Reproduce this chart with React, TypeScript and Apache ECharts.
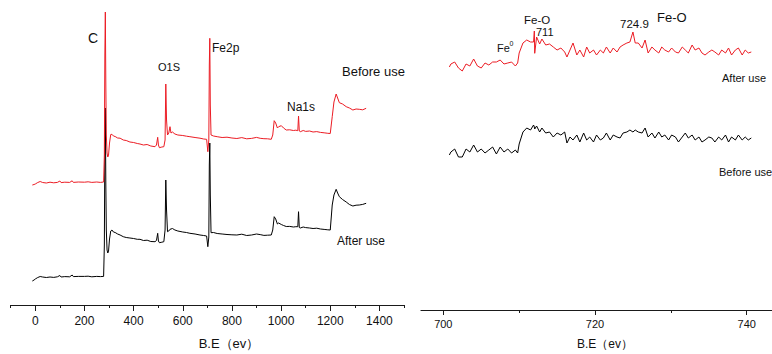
import React, { useEffect, useRef } from "react";
import * as echarts from "echarts";

// Survey spectrum (left panel): binding energy (eV) and intensity (a.u.)
const surveyBE = [
  -12, -5, 0, 10, 20, 30, 45, 60, 75, 90, 100, 105, 120, 140, 150, 155, 175, 200, 215, 230, 250, 265, 278,
  281, 283, 285, 287, 289, 292, 295, 298, 302, 307, 312, 318, 325, 335, 345, 358, 370, 385, 400, 415, 426,
  440, 455, 470, 487, 493, 498, 501, 505, 515, 523, 528, 531, 534, 538, 543, 548, 552, 558, 568, 580, 600,
  615, 629, 650, 670, 685, 697, 702, 706, 708, 710, 712, 715, 725, 740, 760, 780, 800, 820, 840, 860, 880,
  900, 915, 930, 945, 960, 966, 972, 978, 985, 990, 1001, 1010, 1021, 1035, 1050, 1060, 1068, 1071, 1074,
  1078, 1090, 1100, 1116, 1130, 1145, 1160, 1175, 1190, 1200, 1208, 1215, 1224, 1230, 1237, 1250, 1265,
  1278, 1292, 1305, 1318, 1332, 1346,
];
const surveyBefore = [
  120, 120.5, 121, 122.5, 123.5, 122.5, 122, 122.8, 122.2, 122.6, 124, 122.4, 122.8, 122.6, 124.2, 122.6, 123, 122.8, 123.2, 122.6, 123, 122.6, 123,
  150, 250, 293, 220, 170, 152, 148, 150, 162, 170.5, 170.7, 169, 168.5, 167, 166.8, 165, 164.5, 163, 162.5, 161.5, 161,
  160, 160.5, 159, 158.3, 160, 167.7, 160, 157.3, 158, 158.3, 165, 221, 185, 170, 172, 178.3, 172, 173, 171, 170, 169.5,
  168.8, 168.3, 167.5, 166.8, 166, 165.7, 153.3, 165, 240, 266.7, 200, 170, 169, 168.3, 167.5, 167.8, 167, 166.5, 167.4, 166.2, 166.6,
  167.6, 166.7, 166.3, 166.2, 165.7, 170, 184.3, 182, 177, 178.3, 179.3, 177, 175, 175.2, 174.5, 174.8, 174.3, 189, 174,
  173.3, 174.5, 173.6, 174, 173, 173.4, 172.6, 172.2, 171.7, 171.5, 188.3, 203, 211, 207, 202.3, 201, 198.3,
  197, 195, 196, 195.7, 195.2, 196.7,
];
const surveyAfter = [
  24, 25, 26, 27.5, 28.5, 28, 27.5, 28, 27.6, 28.2, 29.5, 28, 28.4, 28.2, 30, 28.4, 28.6, 28.6, 28.8, 28.2, 28.6, 28.4, 28.6,
  60, 160, 197, 120, 75, 55, 52, 54, 66, 74, 75, 73, 72.5, 71, 70, 68.3, 67.5, 67, 66.5, 65.7, 65.7,
  64.5, 64.8, 63.5, 63.3, 64.5, 71.7, 64, 62.3, 62.8, 63.3, 75, 125, 95, 73.3, 74, 75.7, 76, 76.5, 75, 74, 73,
  72.5, 71.7, 71, 70, 69.5, 69, 58.3, 68, 140, 162, 110, 72.3, 72.5, 71.5, 71, 70.5, 70.2, 70, 70.8, 69.5, 70,
  71, 70.4, 69.6, 69.8, 70, 75, 88.3, 86, 81, 82, 80.5, 79.5, 78.5, 78.6, 78, 78.3, 78.3, 93.3, 77.5,
  77, 78, 77.4, 77, 76.5, 76.8, 76, 75.6, 75.2, 75, 100, 110, 115.7, 112, 108.3, 105.5, 103,
  100.5, 99, 99.8, 100, 100.6, 101.7,
];

// Fe 2p region (right panel)
const fineBE = [
  700.8, 701.0, 701.5, 702.0, 702.5, 703.0, 703.5, 704.0, 704.5, 705.0, 705.5, 706.0, 706.5, 707.0, 707.5, 708.0,
  708.5, 709.0, 709.5, 709.8, 710.0, 710.5, 711.0, 711.5, 711.9, 712.0, 712.05, 712.3, 712.7, 713.0, 713.5, 714.0,
  714.5, 715.0, 715.5, 716.0, 716.3, 716.7, 717.1, 717.6, 718.0, 718.5, 718.9, 719.3, 719.8, 720.2, 720.7, 721.1,
  721.5, 722.0, 722.4, 722.9, 723.3, 723.7, 724.2, 724.6, 725.0, 725.3, 725.7, 726.2, 726.6, 727.0, 727.5, 727.9,
  728.4, 728.8, 729.2, 729.7, 730.1, 730.6, 731.0, 731.5, 731.9, 732.3, 732.8, 733.2, 733.7, 734.1, 734.5, 735.0,
  735.4, 735.8, 736.3, 736.7, 737.2, 737.6, 738.0, 738.5, 738.9, 739.4, 739.8, 740.2, 740.6,
];
const fineAfter = [
  243, 246, 248, 242, 239, 246, 244, 251, 244, 242, 247, 245, 248, 248, 250, 246,
  247, 248, 244, 247, 257, 267, 270, 268, 268, 279, 256.7, 273, 266, 271, 265, 266,
  263, 260, 262, 258, 253, 260, 267, 255, 260, 253, 263, 257, 260, 255, 260, 257,
  263, 257, 262, 258, 263, 265, 267, 268, 278, 267, 267, 262, 270, 257, 263, 260,
  257, 263, 260, 258, 262, 258, 257, 263, 260, 257, 265, 260, 262, 257, 255, 258,
  260, 258, 255, 260, 257, 262, 255, 260, 262, 255, 260, 257, 258,
];
const fineBefore = [
  155, 158, 161, 153, 153, 161, 158, 165, 158, 161, 157, 160, 163, 156, 163, 158,
  161, 157, 160, 157, 166, 178, 182, 180, 185, 183, 181, 184, 178, 182, 177, 178,
  173, 177, 175, 178, 167, 173, 170, 175, 168, 177, 170, 173, 168, 175, 170, 172,
  177, 170, 175, 173, 172, 177, 178, 180, 178, 180, 178, 177, 182, 173, 177, 172,
  178, 173, 175, 170, 175, 173, 168, 173, 177, 172, 175, 170, 173, 168, 170, 173,
  172, 168, 173, 170, 175, 168, 173, 170, 175, 170, 173, 170, 172,
];

const surveyTicks = [0, 200, 400, 600, 800, 1000, 1200, 1400];
const fineTicks = [700, 720, 740];

const FONT = '"Liberation Sans", Arial, sans-serif';
const RED = "#ec1c24";
const BLACK = "#000000";
const AXIS = "#1a1a1a";

function txt(text: string, x: number, y: number, size: number, align = "left") {
  return {
    type: "text",
    x,
    y,
    silent: true,
    style: {
      text,
      fontSize: size,
      fontFamily: FONT,
      fontWeight: "normal",
      fill: "#111",
      align,
      verticalAlign: "middle",
    },
  };
}

export default function App() {
  const ref = useRef<HTMLDivElement>(null);
  useEffect(() => {
    if (!ref.current) return;
    const chart = echarts.init(ref.current, undefined, { renderer: "svg" });
    const zip = (xs: number[], ys: number[]) => xs.map((x, i) => [x, ys[i]]);
    const hiddenY = (gridIndex: number, max: number) => ({
      type: "value",
      gridIndex,
      min: 0,
      max,
      show: false,
    });
    const plain = (v: number) => String(v);
    chart.setOption({
      animation: false,
      backgroundColor: "#ffffff",
      grid: [
        { left: 10.7, top: 0, width: 393.3, height: 305 },
        { left: 35.3, top: 0, width: 344.1, height: 305 },
        { left: 421, top: 0, width: 351, height: 310 },
        { left: 443.3, top: 0, width: 303.4, height: 310 },
      ],
      xAxis: [
        {
          type: "value",
          gridIndex: 0,
          min: -100,
          max: 1500,
          interval: 100,
          axisLine: { show: true, lineStyle: { color: AXIS, width: 1.2 } },
          axisTick: { show: true, length: 3, lineStyle: { color: AXIS } },
          axisLabel: { show: false },
          splitLine: { show: false },
        },
        {
          type: "value",
          gridIndex: 1,
          min: surveyTicks[0],
          max: surveyTicks[surveyTicks.length - 1],
          interval: 200,
          axisLine: { show: false },
          axisTick: { show: true, length: 6, lineStyle: { color: AXIS } },
          axisLabel: { show: true, fontSize: 12, fontFamily: FONT, color: "#111", margin: 10, formatter: plain },
          splitLine: { show: false },
        },
        {
          type: "value",
          gridIndex: 2,
          min: 697.06,
          max: 743.33,
          axisLine: { show: true, lineStyle: { color: AXIS, width: 1.2 } },
          axisTick: { show: false },
          axisLabel: { show: false },
          splitLine: { show: false },
        },
        {
          type: "value",
          gridIndex: 3,
          min: fineTicks[0],
          max: fineTicks[fineTicks.length - 1],
          interval: 20,
          axisLine: { show: false },
          axisTick: { show: true, length: 5, lineStyle: { color: AXIS } },
          minorTick: { show: true, splitNumber: 2, length: 3, lineStyle: { color: AXIS } },
          axisLabel: { show: true, fontSize: 11, fontFamily: FONT, color: "#111", margin: 8, formatter: plain },
          splitLine: { show: false },
        },
      ],
      yAxis: [hiddenY(0, 305), hiddenY(1, 305), hiddenY(2, 310), hiddenY(3, 310)],
      series: [
        {
          name: "After use",
          type: "line",
          xAxisIndex: 0,
          yAxisIndex: 0,
          data: zip(surveyBE, surveyAfter),
          showSymbol: false,
          symbol: "none",
          lineStyle: { color: BLACK, width: 1 },
        },
        {
          name: "Before use",
          type: "line",
          xAxisIndex: 0,
          yAxisIndex: 0,
          data: zip(surveyBE, surveyBefore),
          showSymbol: false,
          symbol: "none",
          lineStyle: { color: RED, width: 1 },
        },
        {
          name: "Before use (Fe2p)",
          type: "line",
          xAxisIndex: 2,
          yAxisIndex: 2,
          data: zip(fineBE, fineBefore),
          showSymbol: false,
          symbol: "none",
          lineStyle: { color: BLACK, width: 1 },
        },
        {
          name: "After use (Fe2p)",
          type: "line",
          xAxisIndex: 2,
          yAxisIndex: 2,
          data: zip(fineBE, fineAfter),
          showSymbol: false,
          symbol: "none",
          lineStyle: { color: RED, width: 1 },
        },
      ],
      graphic: [
        txt("C", 88, 38, 14),
        txt("O1S", 158, 67, 11),
        txt("Fe2p", 212, 48, 12),
        txt("Before use", 342, 71, 13),
        txt("Na1s", 287, 107, 12),
        txt("After use", 337, 241, 12),
        txt("B.E（ev）", 229, 343, 13, "center"),
        txt("Fe-O", 524, 20, 11.5),
        txt("711", 536, 32, 11),
        txt("Fe", 497, 48, 11),
        txt("0", 509.5, 43, 7),
        txt("724.9", 620, 24, 11.5),
        txt("Fe-O", 657, 17, 13),
        txt("After use", 722, 78, 11),
        txt("Before use", 719, 172, 11),
        txt("B.E（ev）", 605, 344, 12, "center"),
      ],
    });
    return () => chart.dispose();
  }, []);
  return (
    <div
      ref={ref}
      style={{ position: "absolute", left: 0, top: 0, width: 772, height: 354, background: "#fff" }}
    />
  );
}
